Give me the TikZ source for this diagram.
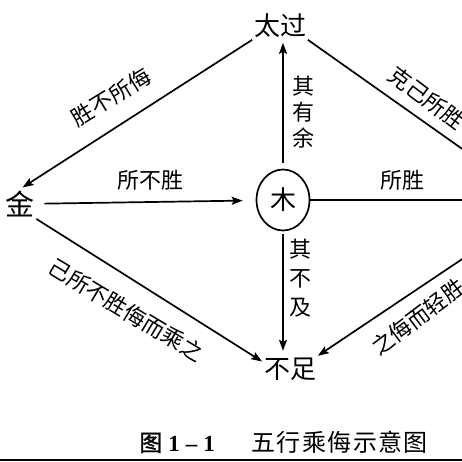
\documentclass[tikz,border=0pt]{standalone}
\usepackage{fontspec}
\setmainfont{Liberation Serif}
\newfontfamily\cjk{Noto Sans CJK SC}
\newfontfamily\cjkcapb{Noto Sans CJK SC}[FakeBold=1.5]
\usetikzlibrary{arrows.meta,shapes.geometric}
\begin{document}
\begin{tikzpicture}[x=1pt,y=-1pt,line width=1.7pt,
  arr/.style={-{Stealth[length=11pt,width=8pt,inset=2pt]}},
  big/.style={font=\cjk\fontsize{26}{26}\selectfont,inner sep=1pt},
  lab/.style={font=\cjk\fontsize{22}{22}\selectfont,inner sep=0pt},
  vlab/.style={font=\cjk\fontsize{22}{26}\selectfont,align=center,inner sep=0pt}]
\useasboundingbox (0,0) rectangle (462,462);
\clip (0,0) rectangle (462,462);
% main nodes
\node[big] (taiguo) at (280,26) {太过};
\node[big,font=\cjk\fontsize{29}{29}\selectfont] (jin) at (20,204) {金};
\node[draw,ellipse,minimum width=53,minimum height=61,inner sep=0pt,
      font=\cjk\fontsize{26}{26}\selectfont] (mu) at (283,200) {木};
\node[big] (buzu) at (290,369) {不足};
\node[minimum width=40,minimum height=30,inner sep=0pt] (tu) at (540,205) {};
% connectors
\draw[arr,shorten <=6pt,shorten >=3pt] (mu.north) -- (mu.north |- taiguo.south);
\draw[arr,shorten >=3pt] (taiguo.south west) -- (jin.north);
\draw[arr] (taiguo.south east) -- (tu.north west);
\draw[arr,shorten <=8pt,shorten >=13pt] (jin) -- (mu);
\draw[arr] (mu.east) -- (mu.east -| tu.west);
\draw[arr] (jin.south east) -- (buzu.165);
\draw[arr,shorten <=3pt,shorten >=5pt] (mu.south) -- (mu.south |- buzu.north);
\draw[arr] (tu.south west) -- (buzu.north east);
% labels
\node[lab,rotate=31.5] (l1) at (111,97) {胜不所侮};
\node[lab] (l2) at (150,180) {所不胜};
\node[vlab] (l3) at (303,112) {其\\有\\余};
\node[lab] (l4) at (402,180) {所胜};
\node[lab,rotate=-37] (l5) at (427,98) {克己所胜};
\node[vlab,font=\cjk\fontsize{22}{29}\selectfont] (l6) at (300,278) {其\\不\\及};
\node[lab,rotate=-31] (l7) at (126,310) {己所不胜侮而乘之};
\node[lab,rotate=37] (l8) at (418,317) {之侮而轻胜};
% caption
\node[inner sep=0pt] (cap) at (284,442) {{\cjkcapb\fontsize{23}{23}\selectfont 图}\hspace{6pt}{\bfseries\fontsize{23}{23}\selectfont 1\hspace{6pt}\textendash\hspace{6pt}1}\hspace{36pt}{\cjk\fontsize{24}{24}\selectfont\makebox[25.4pt]{五}\makebox[25.4pt]{行}\makebox[25.4pt]{乘}\makebox[25.4pt]{侮}\makebox[25.4pt]{示}\makebox[25.4pt]{意}\makebox[25.4pt]{图}}};
\coordinate (ruleL) at (0,460);
\coordinate (ruleR) at (462,460);
\draw[line width=2pt] (ruleL) -- (ruleR);
\end{tikzpicture}
\end{document}
